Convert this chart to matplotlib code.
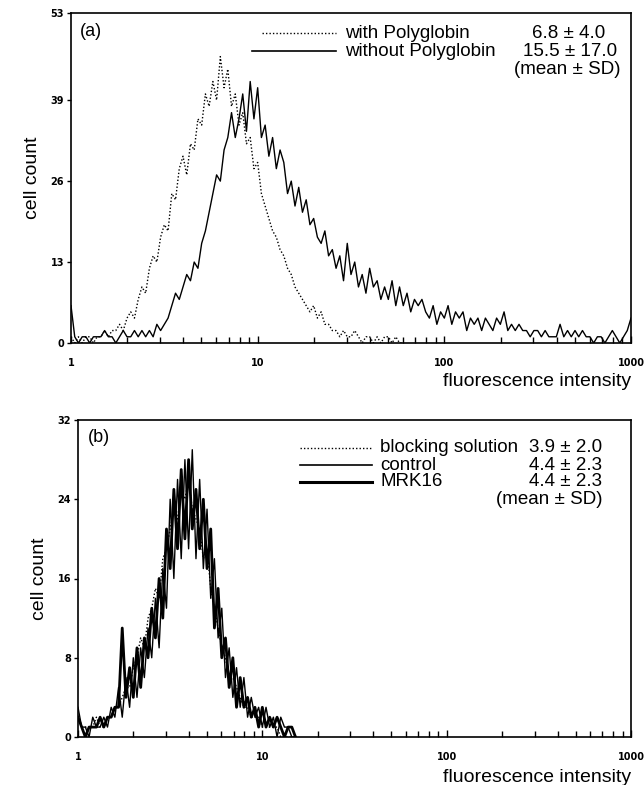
import numpy as np
import matplotlib
matplotlib.use('Agg')
import matplotlib.pyplot as plt
from matplotlib.lines import Line2D

plt.rcParams['font.family'] = ['Liberation Sans', 'DejaVu Sans']

# ---- panel (a): counts per log channel (50 channels per decade, starting at 1)
a_without = [6, 1, 0, 1, 1, 0, 1, 1, 1, 2, 1, 1, 0, 1, 2, 1, 1, 2, 1, 2,
             1, 2, 1, 3, 2, 3, 4, 6, 8, 7, 9, 11, 10, 13, 12, 16, 18, 21, 24, 27,
             26, 31, 33, 37, 33, 36, 40, 34, 42, 36, 41, 33, 35, 30, 33, 28, 31, 29, 24, 26,
             22, 25, 21, 23, 19, 20, 17, 16, 18, 14, 15, 12, 14, 10, 16, 11, 13, 9, 11, 8,
             12, 9, 10, 7, 9, 7, 10, 6, 9, 6, 8, 5, 7, 6, 7, 5, 4, 6, 3, 5,
             4, 6, 3, 5, 4, 5, 2, 4, 3, 4, 2, 4, 3, 2, 4, 3, 5, 2, 3, 2,
             3, 2, 2, 1, 2, 2, 1, 2, 1, 1, 1, 3, 1, 2, 1, 2, 1, 2, 1, 1,
             0, 1, 1, 0, 1, 2, 1, 0, 1, 2, 4]
a_with = [1, 0, 1, 0, 1, 1, 0, 1, 1, 2, 1, 2, 2, 3, 2, 4, 5, 4, 7, 9,
          8, 12, 14, 13, 17, 19, 18, 24, 23, 28, 30, 27, 32, 31, 36, 35, 40, 38, 42, 39,
          46, 41, 44, 38, 40, 35, 37, 32, 33, 28, 29, 24, 22, 20, 18, 17, 15, 14, 12, 11,
          9, 8, 7, 6, 5, 6, 4, 5, 3, 3, 2, 2, 1, 2, 1, 1, 2, 1, 0, 1,
          1, 0, 1, 0, 1, 1, 0, 1, 0, 0]

# ---- panel (b)
b_blocking = [2, 1, 1, 1, 1, 2, 1, 1, 2, 2, 3, 3, 4, 5, 5, 7, 8, 10, 9, 12,
              13, 15, 14, 18, 19, 21, 23, 22, 25, 24, 26, 23, 22, 21, 18, 19, 15, 13, 11, 9,
              8, 6, 6, 5, 4, 3, 3, 2, 2, 2, 1, 1, 1, 1, 1, 0, 0, 0, 0, 0]
b_control = [3, 1, 1, 0, 2, 1, 1, 2, 1, 3, 2, 5, 2, 6, 3, 8, 4, 9, 6, 11,
             8, 14, 9, 17, 13, 24, 16, 26, 18, 28, 19, 29, 18, 26, 17, 23, 14, 18, 10, 13,
             6, 9, 4, 7, 3, 6, 2, 4, 2, 3, 1, 3, 1, 2, 0, 2, 1, 1, 0, 0]
b_mrk16 = [2, 1, 0, 1, 1, 1, 2, 1, 2, 2, 3, 3, 11, 4, 7, 4, 9, 5, 10, 8,
           13, 10, 16, 12, 21, 17, 25, 19, 27, 20, 28, 21, 25, 19, 24, 17, 21, 11, 15, 8,
           10, 5, 8, 3, 6, 3, 4, 2, 3, 1, 3, 1, 2, 1, 2, 1, 0, 1, 1, 0]

ch_per_decade = 50
xticks = [1, 10, 100, 1000]
xticklabels = ['1', '10', '100', '1000']
a_yticks = [0, 13, 26, 39, 53]
b_yticks = [0, 8, 16, 24, 32]

W, H = 644, 785


def chan(vals):
    return 10 ** (np.arange(len(vals)) / ch_per_decade)


def fx(px):
    return px / W


def fy(py):
    return 1 - py / H


def style_axes(ax, yticks):
    ax.set_xscale('log')
    ax.set_xlim(1, 1000)
    ax.set_ylim(0, yticks[-1])
    ax.set_xticks(xticks)
    ax.set_xticklabels(xticklabels)
    ax.set_yticks(yticks)
    ax.set_yticklabels([str(t) for t in yticks])
    ax.tick_params(axis='x', which='major', direction='in', length=5, width=1, pad=11,
                   labelsize=7)
    ax.tick_params(axis='x', which='minor', direction='in', length=4, width=1)
    ax.tick_params(axis='y', direction='out', length=3, width=1, pad=2, labelsize=7)
    for lab in ax.get_xticklabels() + ax.get_yticklabels():
        lab.set_fontweight('bold')
        lab.set_family('DejaVu Sans')
    for s in ax.spines.values():
        s.set_linewidth(1.2)
    ax.set_ylabel('cell count', fontsize=14, labelpad=7)


fig = plt.figure(figsize=(6.44, 7.85), dpi=100)

ax1 = fig.add_axes([fx(71), fy(343), fx(631) - fx(71), fy(13) - fy(343)])
ax1.plot(chan(a_with), a_with, color='black', lw=1.0, ls=(0, (1, 1.5)))
ax1.plot(chan(a_without), a_without, color='black', lw=1.0)
style_axes(ax1, a_yticks)

ax2 = fig.add_axes([fx(78), fy(737), fx(631) - fx(78), fy(420) - fy(737)])
ax2.plot(chan(b_control), b_control, color='black', lw=1.0)
ax2.plot(chan(b_mrk16), b_mrk16, color='black', lw=2.0)
ax2.plot(chan(b_blocking), b_blocking, color='black', lw=1.0, ls=(0, (1, 1.5)))
style_axes(ax2, b_yticks)

# panel letters and axis titles
fig.text(fx(80), fy(32), '(a)', fontsize=13, va='center')
fig.text(fx(88), fy(437), '(b)', fontsize=13, va='center')
fig.text(fx(631), fy(381), 'fluorescence intensity', fontsize=14, ha='right', va='center')
fig.text(fx(631), fy(777), 'fluorescence intensity', fontsize=14, ha='right', va='center')


def legend_line(x0, x1, y, **kw):
    fig.add_artist(Line2D([fx(x0), fx(x1)], [fy(y), fy(y)], transform=fig.transFigure,
                          color='black', **kw))


# legend (a)
legend_line(262, 336, 33, lw=1.0, ls=(0, (1, 1.5)))
legend_line(252, 336, 51, lw=1.2)
fig.text(fx(345), fy(33), 'with Polyglobin', fontsize=13.5, va='center')
fig.text(fx(345), fy(52), 'without Polyglobin', fontsize=13.5, va='center')
fig.text(fx(605), fy(33), '6.8 ± 4.0', fontsize=13.5, va='center', ha='right')
fig.text(fx(617), fy(52), '15.5 ± 17.0', fontsize=13.5, va='center', ha='right')
fig.text(fx(620), fy(70), '(mean ± SD)', fontsize=13.5, va='center', ha='right')

# legend (b)
legend_line(300, 372, 448, lw=1.0, ls=(0, (1, 1.5)))
legend_line(300, 372, 465, lw=1.2)
legend_line(300, 372, 482, lw=2.2)
fig.text(fx(380), fy(448), 'blocking solution', fontsize=13.5, va='center')
fig.text(fx(380), fy(465), 'control', fontsize=13.5, va='center')
fig.text(fx(380), fy(482), 'MRK16', fontsize=13.5, va='center')
fig.text(fx(602), fy(448), '3.9 ± 2.0', fontsize=13.5, va='center', ha='right')
fig.text(fx(602), fy(465), '4.4 ± 2.3', fontsize=13.5, va='center', ha='right')
fig.text(fx(602), fy(482), '4.4 ± 2.3', fontsize=13.5, va='center', ha='right')
fig.text(fx(603), fy(499), '(mean ± SD)', fontsize=13.5, va='center', ha='right')

fig.savefig('out.png', dpi=100)
